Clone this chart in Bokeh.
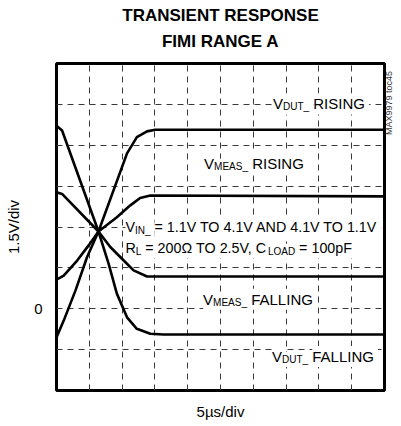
from bokeh.plotting import figure
from bokeh.models import FixedTicker, ColumnDataSource, Range1d, Title, LinearAxis
from bokeh.embed import file_html
from bokeh.resources import INLINE
from bokeh.core.properties import value
import math

# ---- data (x in 5us divisions, y in 1.5V divisions, 0 V at y = 0) ----
vdut_rise_x = [0, 0.22, 0.58, 0.93, 1.28, 2.15, 2.45, 2.76, 3.01, 10]
vdut_rise_y = [-0.70, -0.29, 0.45, 1.26, 1.89, 3.80, 4.20, 4.34, 4.38, 4.38]

vdut_fall_x = [0, 0.17, 1.28, 1.59, 1.84, 2.15, 2.45, 2.86, 3.26, 10]
vdut_fall_y = [4.48, 4.36, 1.89, 1.10, 0.37, -0.21, -0.49, -0.61, -0.63, -0.63]

vmeas_fall_x = [0, 0.17, 1.28, 1.64, 2.05, 2.35, 2.76, 10]
vmeas_fall_y = [2.85, 2.81, 1.89, 1.51, 1.18, 0.94, 0.79, 0.79]

vmeas_rise_x = [0, 0.22, 0.63, 0.98, 1.28, 1.84, 2.25, 2.55, 2.86, 10]
vmeas_rise_y = [0.71, 0.81, 1.18, 1.55, 1.89, 2.24, 2.53, 2.71, 2.77, 2.75]

grid_x_ticks = [1, 2, 3, 4, 5, 6, 7, 8, 9]
grid_y_ticks = [-1, 0, 1, 2, 3, 4, 5]
y_tick_labels = {0: "0"}

title_line1 = "TRANSIENT RESPONSE"
title_line2 = "FIMI RANGE A"
x_label = "5\u00b5s/div"
y_label = "1.5V/div"
side_note = "MAX9979 toc45"
side_note_y = 4.25

# annotation texts: (x, baseline y, main size, [(text, is_subscript), ...])
annotations = [
    (6.60, 5.01, 15, [("V", 0), ("DUT_", 1), (" RISING", 0)]),
    (4.50, 3.56, 15, [("V", 0), ("MEAS_", 1), (" RISING", 0)]),
    (2.10, 2.00, 14.3, [("V", 0), ("IN_", 1), (" = 1.1V TO 4.1V AND 4.1V TO 1.1V", 0)]),
    (2.10, 1.48, 14.3, [("R", 0), ("L", 1), (" = 200\u03a9 TO 2.5V, C", 0), ("LOAD", 1), (" = 100pF", 0)]),
    (4.47, 0.23, 15, [("V", 0), ("MEAS_", 1), (" FALLING", 0)]),
    (6.57, -1.17, 15, [("V", 0), ("DUT_", 1), (" FALLING", 0)]),
]

FONT = "Liberation Sans"
SUB_SIZE = 10
SUB_DROP = 3

# Arial / Liberation Sans advance widths (1/1000 em)
W = {" ": 278, ",": 278, ".": 278, "=": 584, "_": 556, "\u03a9": 768,
     "A": 667, "C": 722, "D": 722, "E": 667, "F": 611, "G": 778, "I": 278,
     "L": 556, "M": 833, "N": 722, "O": 778, "R": 722, "S": 667, "T": 611,
     "U": 722, "V": 667, "p": 556}


def width(s, size):
    return sum(W.get(c, 556) for c in s) / 1000.0 * size


segs_out = dict(x=[], y=[], text=[], xo=[], yo=[], size=[])
for ax, ay, msize, segs in annotations:
    off = 0.0
    for t, is_sub in segs:
        size = SUB_SIZE if is_sub else msize
        lead = len(t) - len(t.lstrip(" "))
        off += width(" " * lead, size)
        t2 = t.strip(" ")
        segs_out["x"].append(ax)
        segs_out["y"].append(ay)
        segs_out["text"].append(t2)
        segs_out["xo"].append(off)
        segs_out["yo"].append(SUB_DROP if is_sub else 0)
        segs_out["size"].append(f"{size}px")
        off += width(t2, size)
src = ColumnDataSource(segs_out)

p = figure(width=401, height=426, x_range=Range1d(0, 10), y_range=Range1d(-2, 6),
           output_backend="svg", toolbar_location=None, title=None,
           min_border_left=56, min_border_right=16, min_border_top=63, min_border_bottom=36)

p.add_layout(Title(text=title_line2, align="center", text_font=FONT, text_font_size="17px",
                   text_font_style="bold", text_color="black", standoff=26), "above")
p.add_layout(Title(text=title_line1, align="center", text_font=FONT, text_font_size="17px",
                   text_font_style="bold", text_color="black", standoff=-16), "above")

p.outline_line_color = "black"
p.outline_line_width = 3
p.outline_line_alpha = 1

for g, ticks in ((p.xgrid, grid_x_ticks), (p.ygrid, grid_y_ticks)):
    g.ticker = FixedTicker(ticks=ticks)
    g.grid_line_color = "#3a3a3a"
    g.grid_line_width = 1
    g.grid_line_dash = "6 5"

p.yaxis.ticker = FixedTicker(ticks=list(y_tick_labels.keys()))
p.yaxis.major_label_overrides = y_tick_labels
p.xaxis.ticker = FixedTicker(ticks=[])

right = LinearAxis(ticker=FixedTicker(ticks=[side_note_y]),
                   major_label_overrides={side_note_y: side_note},
                   major_label_orientation=math.pi / 2,
                   major_label_standoff=4,
                   major_label_text_font=FONT, major_label_text_font_size="9px",
                   major_label_text_color="#333333")
p.add_layout(right, "right")

for ax in (p.xaxis[0], p.yaxis[0]):
    ax.major_label_text_font = FONT
    ax.major_label_text_font_size = "15px"
    ax.major_label_text_color = "black"
    ax.axis_label_text_font = FONT
    ax.axis_label_text_font_size = "15px"
    ax.axis_label_text_font_style = "normal"
    ax.axis_label_text_color = "black"
for ax in (p.xaxis[0], p.yaxis[0], right):
    ax.axis_line_color = None
    ax.major_tick_line_color = None
    ax.minor_tick_line_color = None
    ax.major_tick_out = 0
    ax.major_tick_in = 0
p.yaxis[0].major_label_standoff = 14
p.yaxis[0].axis_label = y_label
p.yaxis[0].axis_label_standoff = 9
p.xaxis[0].axis_label = x_label
p.xaxis[0].axis_label_standoff = 12

# white boxes behind the annotation texts (hide the grid), then the texts
p.text(x="x", y="y", text="text", x_offset="xo", y_offset="yo", source=src,
       text_font=value(FONT), text_font_size="size", text_alpha=0,
       text_align="left", text_baseline="alphabetic",
       background_fill_color="white", padding=2)
p.text(x="x", y="y", text="text", x_offset="xo", y_offset="yo", source=src,
       text_font=value(FONT), text_font_size="size", text_color="black",
       text_align="left", text_baseline="alphabetic")

for xs, ys in ((vdut_rise_x, vdut_rise_y), (vdut_fall_x, vdut_fall_y),
               (vmeas_fall_x, vmeas_fall_y), (vmeas_rise_x, vmeas_rise_y)):
    p.line(xs, ys, line_color="black", line_width=2.6, line_join="round")

open("out.html", "w").write(file_html(p, INLINE))
